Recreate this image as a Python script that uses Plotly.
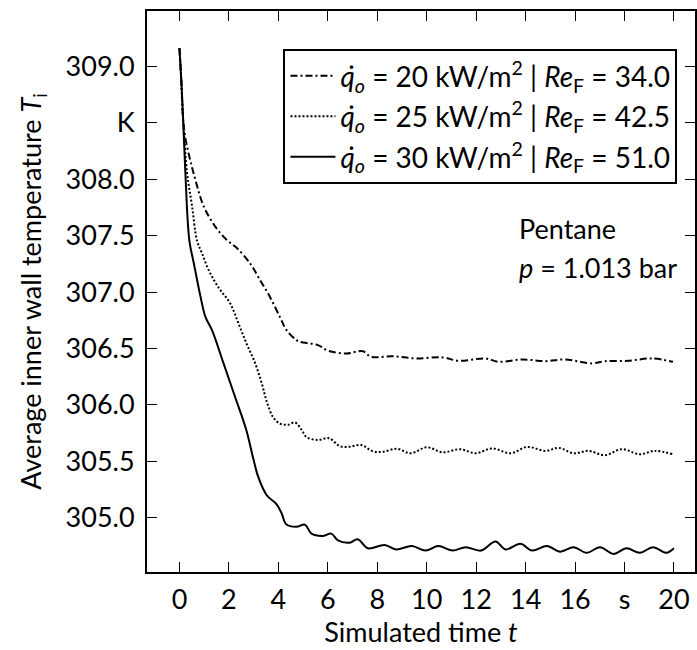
import plotly.graph_objects as go

# Simulated time t in s and average inner wall temperature T_i in K
t_30 = [0, 0.08, 0.15, 0.24, 0.40, 0.58, 0.85, 1.05, 1.32, 1.78, 2.25, 2.70, 2.99, 3.19,
        3.53, 3.93, 4.13, 4.33, 4.73, 5.07, 5.34, 5.81, 6.14, 6.41, 6.88, 7.21, 7.62, 8.29,
        8.76, 9.40, 9.95, 10.47, 11.05, 11.57, 12.20, 12.78, 13.19, 13.79, 14.26, 14.86,
        15.40, 15.94, 16.47, 17.01, 17.55, 18.08, 18.62, 19.15, 19.69, 20.0]
T_30 = [309.16, 308.85, 308.52, 308.05, 307.455, 307.255, 306.96, 306.78, 306.66, 306.37,
        306.07, 305.78, 305.52, 305.36, 305.20, 305.12, 305.04, 304.94, 304.92, 304.94,
        304.86, 304.84, 304.86, 304.80, 304.78, 304.81, 304.73, 304.76, 304.72, 304.75,
        304.71, 304.75, 304.71, 304.74, 304.71, 304.79, 304.72, 304.77, 304.71, 304.75,
        304.70, 304.74, 304.69, 304.74, 304.68, 304.73, 304.69, 304.74, 304.69, 304.73]

t_25 = [0, 0.08, 0.15, 0.31, 0.51, 0.71, 0.91, 1.18, 1.58, 2.05, 2.39, 2.72, 3.06, 3.33,
        3.53, 3.79, 4.06, 4.40, 4.67, 4.94, 5.14, 5.60, 6.05, 6.48, 6.88, 7.35, 7.82, 8.22,
        8.80, 9.35, 10.0, 10.65, 11.35, 11.98, 12.65, 13.39, 14.06, 14.80, 15.33, 15.94,
        16.54, 17.21, 17.88, 18.62, 19.22, 19.96]
T_25 = [309.16, 308.85, 308.52, 308.05, 307.76, 307.455, 307.345, 307.195, 307.04, 306.90,
        306.72, 306.54, 306.37, 306.19, 306.03, 305.89, 305.835, 305.825, 305.845, 305.78,
        305.715, 305.69, 305.705, 305.635, 305.63, 305.645, 305.59, 305.585, 305.612,
        305.572, 305.625, 305.58, 305.608, 305.572, 305.615, 305.572, 305.628, 305.593,
        305.62, 305.572, 305.593, 305.555, 305.608, 305.563, 305.593, 305.563]

t_20 = [0, 0.08, 0.15, 0.25, 0.40, 0.60, 0.98, 1.45, 1.92, 2.32, 2.86, 3.26, 3.66, 4.06,
        4.33, 4.73, 4.87, 5.60, 6.01, 6.75, 7.42, 7.75, 8.62, 9.56, 10.64, 11.30, 12.35,
        12.92, 13.86, 14.80, 15.60, 16.67, 17.21, 18.15, 19.09, 19.96]
T_20 = [309.16, 308.85, 308.52, 308.35, 308.20, 308.03, 307.76, 307.58, 307.46, 307.39,
        307.253, 307.105, 306.957, 306.78, 306.663, 306.574, 306.559, 306.53, 306.48,
        306.456, 306.476, 306.426, 306.432, 306.412, 306.421, 306.391, 306.412, 306.382,
        306.403, 306.388, 306.403, 306.368, 306.388, 306.391, 306.412, 306.382]

labels = [
    "<i>q̇</i><sub><i>o</i></sub> = 20 kW/m<sup>2</sup> | <i>Re</i><sub>F</sub> = 34.0",
    "<i>q̇</i><sub><i>o</i></sub> = 25 kW/m<sup>2</sup> | <i>Re</i><sub>F</sub> = 42.5",
    "<i>q̇</i><sub><i>o</i></sub> = 30 kW/m<sup>2</sup> | <i>Re</i><sub>F</sub> = 51.0",
]

x_tickvals = [0, 2, 4, 6, 8, 10, 12, 14, 16, 18, 20]
x_ticktext = ["0", "2", "4", "6", "8", "10", "12", "14", "16", "s", "20"]
y_tickvals = [305.0, 305.5, 306.0, 306.5, 307.0, 307.5, 308.0, 308.5, 309.0]
y_ticktext = ["305.0", "305.5", "306.0", "306.5", "307.0", "307.5", "308.0", "K", "309.0"]

FONT = "Lato"
FS = 27

fig = go.Figure()
series = [
    (t_20, T_20, labels[0], "7px,3px,2px,3px"),
    (t_25, T_25, labels[1], "2px,2px"),
    (t_30, T_30, labels[2], "solid"),
]
for i, (tx, ty, name, dash) in enumerate(series):
    fig.add_trace(go.Scatter(
        x=tx, y=ty, mode="lines", name=name, legendgroup=f"g{i}",
        line=dict(color="black", width=2, dash=dash, shape="spline", smoothing=1.0),
    ))

axis_common = dict(
    showgrid=False, zeroline=False, showline=True, linecolor="black", linewidth=2,
    mirror="allticks", ticks="inside", ticklen=10, tickwidth=1.2, tickcolor="black",
    tickfont=dict(family=FONT, size=FS, color="black"),
)

fig.update_xaxes(
    **axis_common, range=[-1.313, 20.85], tickmode="array",
    tickvals=x_tickvals, ticktext=x_ticktext, ticklabelstandoff=3,
    title=dict(text="Simulated time <i>t</i>", font=dict(family=FONT, size=FS, color="black"),
               standoff=2),
)
fig.update_yaxes(
    **axis_common,
    range=[304.52, 309.49], tickmode="array",
    tickvals=y_tickvals, ticktext=y_ticktext, ticklabelstandoff=5,
    title=dict(text="Average inner wall temperature <i>T</i><sub>i</sub>",
               font=dict(family=FONT, size=FS, color="black"), standoff=16),
)

fig.add_annotation(x=13.64, y=307.56, xref="x", yref="y", text="Pentane",
                   showarrow=False, xanchor="left", yanchor="middle",
                   font=dict(family=FONT, size=FS, color="black"))
fig.add_annotation(x=13.64, y=307.22, xref="x", yref="y", text="<i>p</i> = 1.013 bar",
                   showarrow=False, xanchor="left", yanchor="middle",
                   font=dict(family=FONT, size=FS, color="black"))

fig.update_layout(
    width=697, height=650,
    margin=dict(l=147, r=0, t=11, b=78),
    plot_bgcolor="white", paper_bgcolor="white",
    legend=dict(
        x=0.968, y=0.932, xanchor="right", yanchor="top",
        bgcolor="white", bordercolor="black", borderwidth=2,
        font=dict(family=FONT, size=28, color="black"),
        itemwidth=45, tracegroupgap=1, traceorder="grouped",
    ),
    showlegend=True,
)

fig.write_html("out.html")
